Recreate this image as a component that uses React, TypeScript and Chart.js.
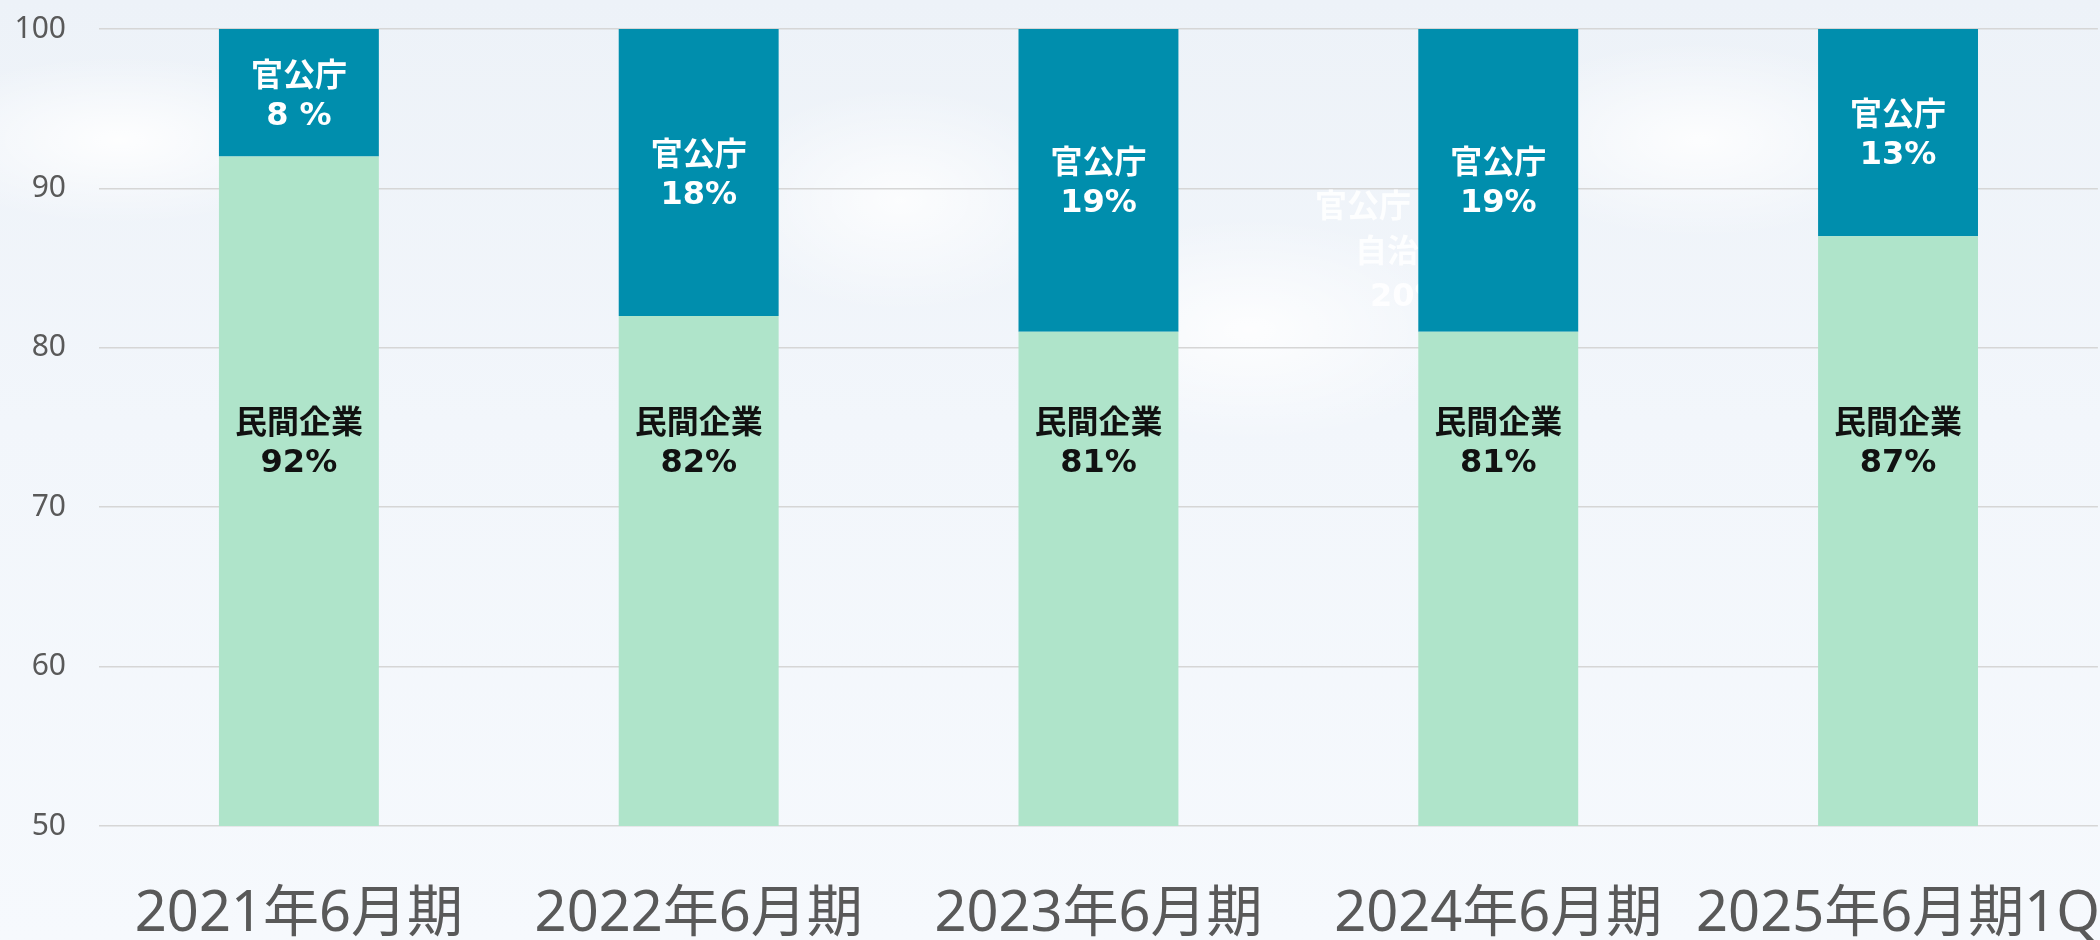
import React, { useEffect, useRef } from "react";
import { Chart, registerables } from "chart.js";

Chart.register(...registerables);

const categories = ["2021年6月期", "2022年6月期", "2023年6月期", "2024年6月期", "2025年6月期1Q"];
const privateShare = [92, 82, 81, 81, 87];
const publicShare = [8, 18, 19, 19, 13];
const privateLabels = ["92%", "82%", "81%", "81%", "87%"];
const publicLabels = ["8 %", "18%", "19%", "19%", "13%"];
const yTicks = [50, 60, 70, 80, 90, 100];

const AXIS_FONT = "'Noto Sans', 'Noto Sans CJK JP', sans-serif";
const LABEL_FONT = "'DejaVu Sans', 'Noto Sans CJK JP', sans-serif";
const PRIVATE_LABEL_VALUE = 74.2;
const TEXT_SHIFT = 4;

const barLabelPlugin = {
  id: "barLabels",
  beforeDatasetsDraw(chart: any) {
    // faint text belonging to the backdrop image
    const ctx = chart.ctx;
    ctx.save();
    ctx.font = `bold 32px ${LABEL_FONT}`;
    ctx.fillStyle = "rgba(255,255,255,0.85)";
    ctx.textBaseline = "middle";
    ctx.textAlign = "left";
    ctx.fillText("官公庁", 1315, 209);
    ctx.fillText("自治体", 1355, 254);
    ctx.fillText("20%", 1370, 298);
    ctx.restore();
  },
  afterDatasetsDraw(chart: any) {
    const ctx = chart.ctx;
    const y = chart.scales.y;
    ctx.save();
    ctx.font = `bold 32px ${LABEL_FONT}`;
    ctx.textAlign = "center";
    ctx.textBaseline = "middle";
    const gap = 19.5;
    const m0 = chart.getDatasetMeta(0);
    m0.data.forEach((bar: any, i: number) => {
      const cy = y.getPixelForValue(PRIVATE_LABEL_VALUE) + TEXT_SHIFT;
      ctx.fillStyle = "#111111";
      ctx.fillText("民間企業", bar.x, cy - gap);
      ctx.fillText(privateLabels[i], bar.x, cy + gap);
    });
    const m1 = chart.getDatasetMeta(1);
    m1.data.forEach((bar: any, i: number) => {
      const cy = (bar.y + bar.base) / 2 + TEXT_SHIFT;
      ctx.fillStyle = "#ffffff";
      ctx.fillText("官公庁", bar.x, cy - gap);
      ctx.fillText(publicLabels[i], bar.x, cy + gap);
    });
    ctx.restore();
  },
};

export default function App() {
  const ref = useRef<HTMLCanvasElement | null>(null);
  useEffect(() => {
    if (!ref.current) return;
    const chart = new Chart(ref.current, {
      type: "bar",
      data: {
        labels: categories,
        datasets: [
          {
            label: "民間企業",
            data: privateShare,
            backgroundColor: "#AFE4CA",
            borderWidth: 0,
            barPercentage: 0.4,
            categoryPercentage: 1.0,
          },
          {
            label: "官公庁",
            data: publicShare,
            backgroundColor: "#008EAD",
            borderWidth: 0,
            barPercentage: 0.4,
            categoryPercentage: 1.0,
          },
        ],
      },
      options: {
        animation: false,
        responsive: true,
        maintainAspectRatio: false,
        layout: { padding: { top: 29, left: 0, right: 0, bottom: 0 } },
        plugins: {
          legend: { display: false },
          tooltip: { enabled: false },
        },
        scales: {
          x: {
            stacked: true,
            grid: {
              display: true,
              drawOnChartArea: false,
              drawTicks: true,
              tickLength: 55,
              tickColor: "rgba(0,0,0,0)",
              color: "rgba(0,0,0,0)",
            },
            border: { display: false },
            ticks: {
              autoSkip: false,
              maxRotation: 0,
              minRotation: 0,
              padding: 0,
              color: "#595959",
              font: { family: AXIS_FONT, size: 56 },
            },
            afterFit(scale: any) {
              scale.height = 114;
            },
          },
          y: {
            stacked: true,
            min: 50,
            max: 100,
            afterBuildTicks(scale: any) {
              scale.ticks = yTicks.map((v) => ({ value: v }));
            },
            grid: {
              color: "#D6D6D6",
              lineWidth: 1.5,
              drawTicks: true,
              tickLength: 33,
              tickColor: "rgba(0,0,0,0)",
            },
            border: { display: false },
            ticks: {
              padding: 0,
              color: "#595959",
              font: { family: AXIS_FONT, size: 30 },
            },
            afterFit(scale: any) {
              scale.width = 99;
            },
          },
        },
      },
      plugins: [barLabelPlugin],
    });
    return () => chart.destroy();
  }, []);

  return (
    <div
      style={{
        position: "fixed",
        left: 0,
        top: 0,
        width: 2100,
        height: 940,
        background:
          "radial-gradient(ellipse 300px 120px at 120px 140px, rgba(255,255,255,0.9), rgba(255,255,255,0) 70%)," +
          "radial-gradient(ellipse 260px 160px at 900px 200px, rgba(255,255,255,0.8), rgba(255,255,255,0) 70%)," +
          "radial-gradient(ellipse 320px 160px at 1250px 330px, rgba(255,255,255,0.85), rgba(255,255,255,0) 70%)," +
          "radial-gradient(ellipse 300px 140px at 1700px 140px, rgba(255,255,255,0.85), rgba(255,255,255,0) 70%)," +
          "linear-gradient(180deg, #EDF2F8 0%, #F2F6FB 45%, #F6F9FD 100%)",
      }}
    >
      <canvas ref={ref} />
    </div>
  );
}
